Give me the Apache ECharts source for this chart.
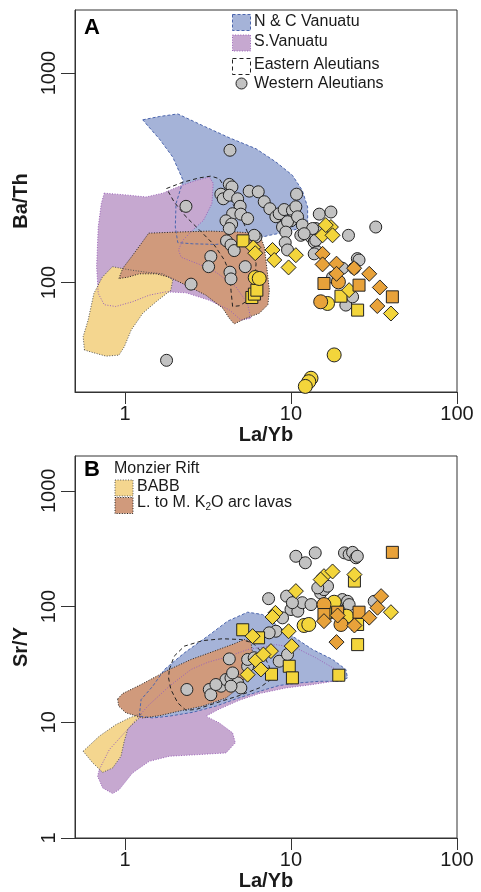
<!DOCTYPE html>
<html>
<head>
<meta charset="utf-8">
<script src="https://cdn.jsdelivr.net/npm/echarts@6/dist/echarts.min.js"></script>
<style>
  html, body { margin: 0; padding: 0; background: #fff; }
  #main { width: 481px; height: 892px; }
</style>
</head>
<body>
<div id="main"></div>
<script>
// ---- panel A : Ba/Th vs La/Yb ----
var topNCVanuatu = [[1.28,598],[1.61,620],[2.08,638],[2.94,561],[4.25,491],[6.16,435],[8.12,376],[10.2,325],[11.7,275],[12.6,229],[12.6,195],[11.2,181],[9.3,174],[7.41,168],[6.16,162],[5.35,156],[4.45,155],[3.53,152],[2.56,153],[2.08,155],[2.01,184],[2.03,238],[2.18,286],[2.24,307],[1.94,397],[1.61,485],[1.37,561]];
var topSVanuatu = [[0.75,267],[1.01,262],[1.34,256],[1.69,267],[2.13,288],[2.68,307],[3.22,319],[3.40,298],[3.34,238],[2.97,198],[2.56,178],[2.23,159],[2.10,143],[2.18,132],[2.81,122],[3.53,112],[4.66,95.3],[5.47,79.4],[5.73,67.4],[4.99,66.2],[4.25,74],[3.22,82.3],[2.33,89.3],[1.76,90.2],[1.40,87.0],[1.11,80.9],[0.88,76.8],[0.75,78.3],[0.69,88.7],[0.675,119],[0.69,184],[0.72,238]];
var topBABB = [[0.57,47.6],[0.56,55.1],[0.60,66.2],[0.65,88.7],[0.73,106],[0.84,119],[1.06,115],[1.34,112],[1.69,110],[1.94,103],[1.89,91.9],[1.54,80.9],[1.28,71.3],[1.09,59.3],[0.99,49.3],[0.92,45.0],[0.77,44.5],[0.64,46.3]];
var topArc = [[0.92,104.5],[0.97,117],[1.09,132],[1.25,153],[1.39,172],[2.03,174],[3.22,176],[4.88,174],[6.45,171],[6.91,148],[7.14,119],[7.41,91.9],[7.26,78.3],[6.45,71.3],[5.35,67.4],[4.55,63.4],[4.25,67.4],[3.88,75.4],[3.07,87],[2.33,97.1],[1.85,106],[1.54,110],[1.22,110],[1.04,106]];
var topEAleut = [[1.78,281],[2.23,301],[2.81,316],[3.29,322],[3.70,313],[3.97,286],[4.45,238],[5.11,198],[5.73,159],[6.16,123],[6.02,95.3],[5.35,80.9],[4.88,77.4],[4.45,76.8],[4.35,91.9],[4.29,110],[3.97,128],[3.45,151],[2.81,178],[2.33,206],[1.98,242]];

var topWAleut = [[4.29,428],[2.33,231],[2.50,98.2],[1.78,42.5],[32.4,184],[22.2,168],[4.25,294],[4.41,286],[3.78,264],[3.91,251],[4.25,261],[4.77,251],[4.94,231],[4.45,213],[4.99,212],[5.48,202],[4.06,197],[4.39,190],[4.25,181],[5.60,273],[6.35,271],[6.90,243],[7.46,225],[8.11,206],[8.49,213],[9.1,223],[10.2,221],[10.8,264],[10.7,230],[9.98,197],[8.89,184],[9.53,195],[10.95,206],[11.46,168],[9.31,174],[9.23,155],[9.53,143],[13.2,165],[14.1,181],[14.8,212],[17.4,217],[13.8,156],[14.4,140],[11.7,188],[13.5,181],[12.0,171],[14.1,159],[13.8,137],[25.1,130],[25.7,128],[21.4,78],[20.4,117],[24.0,117],[17.8,106],[23.5,85.4],[4.09,158],[4.35,151],[4.55,142],[3.29,133],[3.19,119],[5.30,119],[4.29,112],[4.35,104],[6.15,165],[6.0,168]];
var topYSq = [[5.14,158],[5.81,84.8],[6.02,88.0],[6.23,91.9],[20.0,86.0],[25.2,73.8]];
var topYCirc = [[6.09,105.6],[6.44,104.5],[18.2,45.1],[13.2,34.9],[12.8,33.6],[12.2,31.9],[16.6,79.4]];
var topYDia = [[5.93,147],[6.09,138],[7.74,143],[7.93,128],[10.7,135],[9.67,118],[15.5,168],[17.4,184],[17.8,168],[16.2,188],[22.4,91.9],[40.0,71.1]];
var topOSq = [[15.8,98.9],[25.7,97.1],[40.8,85.4]];
var topOCirc = [[15.1,80.9],[19.3,100.7]];
var topODia = [[15.5,137],[15.5,122],[18.8,123],[18.8,110],[24.0,117],[29.6,110],[34.3,94.7],[33.1,77.2]];

// ---- panel B : Sr/Y vs La/Yb ----
var botNCVanuatu = [[1.22,11.3],[1.25,15.7],[1.47,20.5],[1.73,28.6],[2.28,39.8],[3.15,55.5],[4.15,74.8],[5.48,89.4],[6.74,85.3],[8.11,70.0],[10.2,55.5],[13.5,42.5],[17.8,34.9],[21.4,28.6],[21.9,24.2],[20.0,22.6],[14.8,22.6],[11.2,21.9],[8.49,20.8],[6.44,18.5],[4.88,16.3],[3.53,13.8],[2.56,12.2],[1.85,11.3],[1.47,10.9]];
var botSVanuatu = [[0.70,3.90],[0.805,5.81],[1.014,8.37],[1.37,13.8],[1.85,20.5],[2.50,28.6],[3.15,33.0],[4.15,36.8],[5.48,42.5],[8.11,46.9],[10.7,44.0],[14.1,36.1],[18.6,28.6],[20.9,23.4],[13.5,21.2],[9.31,19.8],[6.44,17.7],[4.88,15.5],[3.70,13.0],[3.07,11.3],[3.70,9.88],[4.45,8.10],[4.62,6.64],[4.06,5.44],[2.80,5.26],[1.85,5.09],[1.40,4.60],[1.11,3.65],[0.924,2.62],[0.843,2.42],[0.734,2.71],[0.684,3.42]];
var botBABB = [[0.56,5.62],[0.70,7.58],[0.883,9.56],[1.062,10.9],[1.25,11.9],[1.22,10.9],[1.04,8.74],[0.99,6.85],[0.946,5.09],[0.843,4.03],[0.734,3.69],[0.639,4.46]];
var botArc = [[0.903,15.9],[0.968,17.7],[1.25,21.2],[1.81,28.2],[2.50,34.9],[3.45,41.2],[4.55,47.7],[5.23,51.9],[5.73,50.1],[5.87,39.8],[5.48,28.6],[4.99,20.5],[4.06,16.2],[2.94,13.8],[2.12,12.5],[1.61,11.4],[1.28,10.9],[1.01,12.1],[0.916,13.8]];
var botEAleut = [[1.85,28.6],[1.98,37.3],[2.28,45.5],[2.94,50.8],[3.87,52.7],[4.99,51.9],[5.87,48.6],[6.74,39.8],[7.39,30.5],[7.57,23.4],[6.44,19.8],[4.88,17.0],[3.53,14.7],[2.68,12.9],[2.33,12.7],[2.08,14.7],[1.89,19.2],[1.83,24.2]];

var botWAleut = [[10.7,272],[12.2,239],[14.0,291],[21.0,291],[22.4,282],[23.5,294],[24.6,264],[25.1,272],[15.1,131],[15.8,140],[16.6,150],[14.5,145],[7.33,117],[9.41,123],[10.0,94.3],[11.0,91.2],[11.7,108],[13.2,104],[10.2,108],[20.4,115],[21.9,111],[22.4,104],[31.7,111],[8.89,79.9],[8.11,61.2],[7.39,59.3],[8.49,33.7],[9.53,38.5],[4.25,35.3],[2.36,19.2],[3.22,19.2],[3.29,17.3],[3.79,20.5],[4.06,23.4],[4.35,24.2],[4.77,21.9],[5.48,30.5],[5.48,34.9],[6.0,36.1],[4.99,19.8],[4.35,20.5],[3.53,21.2],[4.45,26.7]];
var botYSq = [[5.12,63.0],[6.38,53.7],[9.76,30.5],[10.2,24.2],[7.63,26.0],[19.4,25.5],[24.1,166],[25.2,46.9],[25.2,70],[16.2,88.2]];
var botYCirc = [[12.0,68.6],[12.8,70.0],[18.2,109],[21.6,82.6]];
var botYDia = [[10.7,136],[8.06,88.2],[7.74,81.3],[15.8,183],[15.1,171],[17.8,201],[24.1,189],[40.0,89.4],[9.67,61.2],[10.1,45.5],[5.87,55.5],[7.57,41.2],[6.15,34.3],[5.48,25.8],[6.59,28.6],[6.82,38.5]];
var botOSq = [[40.8,294],[15.8,85.3],[19.1,89.4],[25.7,89.4]];
var botOCirc = [[15.8,104],[20.0,70.0]];
var botODia = [[15.8,74.8],[19.1,83.7],[24.1,68.6],[29.6,80.2],[33.2,97.7],[34.9,123],[18.8,49.3]];

var xTicks = [1, 10, 100];
var topYTicks = [100, 1000];
var botYTicks = [1, 10, 100, 1000];

var FONT = 'Liberation Sans, Arial, Helvetica, sans-serif';
var C = {
  blue: '#a5b3d8', blueEdge: '#4b65ad',
  purple: '#c6a8d0', purpleEdge: '#9a62b8',
  yellow: '#f4d68f', brown: '#d09a7c',
  grey: '#c2c2c2', ydot: '#f3d53b', orange: '#e8a23a', ink: '#1a1a1a'
};

var myChart = echarts.init(document.getElementById('main'));

// filled field (fill only)
function fieldFill(g, pts, fill, z) {
  return {
    type: 'custom', xAxisIndex: g, yAxisIndex: g, silent: true, z: z,
    data: [[1, 100]],
    renderItem: function (params, api) {
      return { type: 'polygon', shape: { points: pts.map(function (p) { return api.coord(p); }) },
        style: { fill: fill, stroke: null } };
    }
  };
}
// field outline, drawn over all fills
function fieldEdge(g, pts, stroke, dash, z) {
  return {
    type: 'custom', xAxisIndex: g, yAxisIndex: g, silent: true, z: z,
    data: [[1, 100]],
    renderItem: function (params, api) {
      return { type: 'polygon', shape: { points: pts.map(function (p) { return api.coord(p); }) },
        style: { fill: null, stroke: stroke, lineWidth: 1, lineDash: dash } };
    }
  };
}
function dots(g, data, symbol, size, color, z) {
  return {
    type: 'scatter', xAxisIndex: g, yAxisIndex: g, data: data, symbol: symbol, symbolSize: size, z: z,
    itemStyle: { color: color, borderColor: '#222', borderWidth: 1, opacity: 1 },
    emphasis: { disabled: true }
  };
}

var DASH = [3, 2], DOT = [1, 1.6], BLK = [4, 3];
var series = [
  // panel A fields
  fieldFill(0, topNCVanuatu, C.blue, 1),
  fieldFill(0, topSVanuatu, C.purple, 2),
  fieldFill(0, topBABB, C.yellow, 3),
  fieldFill(0, topArc, C.brown, 4),
  fieldEdge(0, topNCVanuatu, C.blueEdge, DASH, 5),
  fieldEdge(0, topSVanuatu, C.purpleEdge, DOT, 5),
  fieldEdge(0, topBABB, '#555', DOT, 5),
  fieldEdge(0, topArc, '#222', DOT, 5),
  fieldEdge(0, topEAleut, '#222', BLK, 5),
  // panel A samples
  dots(0, topWAleut, 'circle', 12, C.grey, 6),
  dots(0, topYSq, 'rect', 12, C.ydot, 7),
  dots(0, topYCirc, 'circle', 14, C.ydot, 7),
  dots(0, topYDia, 'diamond', 15, C.ydot, 8),
  dots(0, topOCirc, 'circle', 14, C.orange, 9),
  dots(0, topOSq, 'rect', 12, C.orange, 9),
  dots(0, topODia, 'diamond', 15, C.orange, 10),
  // panel B fields
  fieldFill(1, botSVanuatu, C.purple, 1),
  fieldFill(1, botNCVanuatu, C.blue, 2),
  fieldFill(1, botBABB, C.yellow, 3),
  fieldFill(1, botArc, C.brown, 4),
  fieldEdge(1, botNCVanuatu, C.blueEdge, DASH, 5),
  fieldEdge(1, botSVanuatu, C.purpleEdge, DOT, 5),
  fieldEdge(1, botBABB, '#555', DOT, 5),
  fieldEdge(1, botArc, '#222', DOT, 5),
  fieldEdge(1, botEAleut, '#222', BLK, 5),
  // panel B samples
  dots(1, botWAleut, 'circle', 12, C.grey, 6),
  dots(1, botYSq, 'rect', 12, C.ydot, 7),
  dots(1, botYCirc, 'circle', 14, C.ydot, 7),
  dots(1, botYDia, 'diamond', 15, C.ydot, 8),
  dots(1, botOCirc, 'circle', 14, C.orange, 9),
  dots(1, botOSq, 'rect', 12, C.orange, 9),
  dots(1, botODia, 'diamond', 15, C.orange, 10)
];

function plain(v) { return String(Math.round(v)); }

function xAx(g) {
  return {
    type: 'log', logBase: 10, gridIndex: g, min: 0.5, max: 100,
    name: 'La/Yb', nameLocation: 'middle', nameGap: 33,
    nameTextStyle: { fontSize: 20, fontWeight: 'bold', color: C.ink, fontFamily: FONT },
    axisLine: { show: true, onZero: false, lineStyle: { color: '#333', width: 1 } },
    axisTick: { show: true, length: 12, customValues: xTicks, lineStyle: { color: '#333' } },
    axisLabel: { customValues: xTicks, formatter: plain, fontSize: 20, color: C.ink, fontFamily: FONT, margin: 12 },
    splitLine: { show: false }, minorTick: { show: false }
  };
}
function yAx(g, name, min, ticks) {
  return {
    type: 'log', logBase: 10, gridIndex: g, min: min, max: 2000,
    name: name, nameLocation: 'middle', nameGap: 33,
    nameTextStyle: { fontSize: 20, fontWeight: 'bold', color: C.ink, fontFamily: FONT },
    axisLine: { show: true, onZero: false, lineStyle: { color: '#333', width: 1 } },
    axisTick: { show: true, length: 14, customValues: ticks, lineStyle: { color: '#333' } },
    axisLabel: { customValues: ticks, formatter: plain, rotate: 90, fontSize: 20, color: C.ink, fontFamily: FONT, margin: 16 },
    splitLine: { show: false }, minorTick: { show: false }
  };
}

function legendBox(x, y, fill, stroke, dash) {
  return { type: 'rect', left: x, top: y, shape: { width: 18, height: 16 }, z: 100,
    style: { fill: fill, stroke: stroke, lineWidth: 1, lineDash: dash } };
}
function legendText(x, y, text) {
  return { type: 'text', left: x, top: y - 9, z: 100,
    style: { text: text, fontSize: 16, fontFamily: FONT, fill: C.ink } };
}

var option = {
  backgroundColor: '#fff',
  animation: false,
  grid: [
    { left: 75, top: 10, width: 382, height: 382, show: true, borderColor: '#333', borderWidth: 1, backgroundColor: 'transparent' },
    { left: 75, top: 456, width: 382, height: 382, show: true, borderColor: '#333', borderWidth: 1, backgroundColor: 'transparent' }
  ],
  xAxis: [xAx(0), xAx(1)],
  yAxis: [yAx(0, 'Ba/Th', 30, topYTicks), yAx(1, 'Sr/Y', 1, botYTicks)],
  graphic: [
    { type: 'text', left: 84, top: 17, z: 100, style: { text: 'A', fontSize: 22, fontWeight: 'bold', fontFamily: FONT, fill: '#000' } },
    { type: 'text', left: 84, top: 459, z: 100, style: { text: 'B', fontSize: 22, fontWeight: 'bold', fontFamily: FONT, fill: '#000' } },
    legendBox(232, 14, C.blue, C.blueEdge, DASH),
    legendText(254, 23, 'N & C Vanuatu'),
    legendBox(232, 34.5, C.purple, C.purpleEdge, DOT),
    legendText(254, 43, 'S.Vanuatu'),
    legendBox(232, 58, '#fff', '#222', BLK),
    legendText(254, 65.5, 'Eastern Aleutians'),
    { type: 'circle', shape: { cx: 241.5, cy: 83.5, r: 5.5 }, z: 100, style: { fill: C.grey, stroke: '#222', lineWidth: 1 } },
    legendText(254, 84.5, 'Western Aleutians'),
    legendText(114, 470, 'Monzier Rift'),
    legendBox(114.5, 479.5, C.yellow, '#555', DOT),
    legendText(137, 488, 'BABB'),
    legendBox(114.5, 497, C.brown, '#222', DOT),
    { type: 'text', left: 137, top: 495, z: 100,
      style: { text: '{a|L. to M. K}{s|2}{a|O arc lavas}', fill: C.ink,
        rich: { a: { fontSize: 16, fontFamily: FONT, lineHeight: 18, fill: C.ink },
                s: { fontSize: 10, fontFamily: FONT, lineHeight: 10, verticalAlign: 'bottom', fill: C.ink } } } }
  ],
  series: series
};
myChart.setOption(option);
</script>
</body>
</html>
